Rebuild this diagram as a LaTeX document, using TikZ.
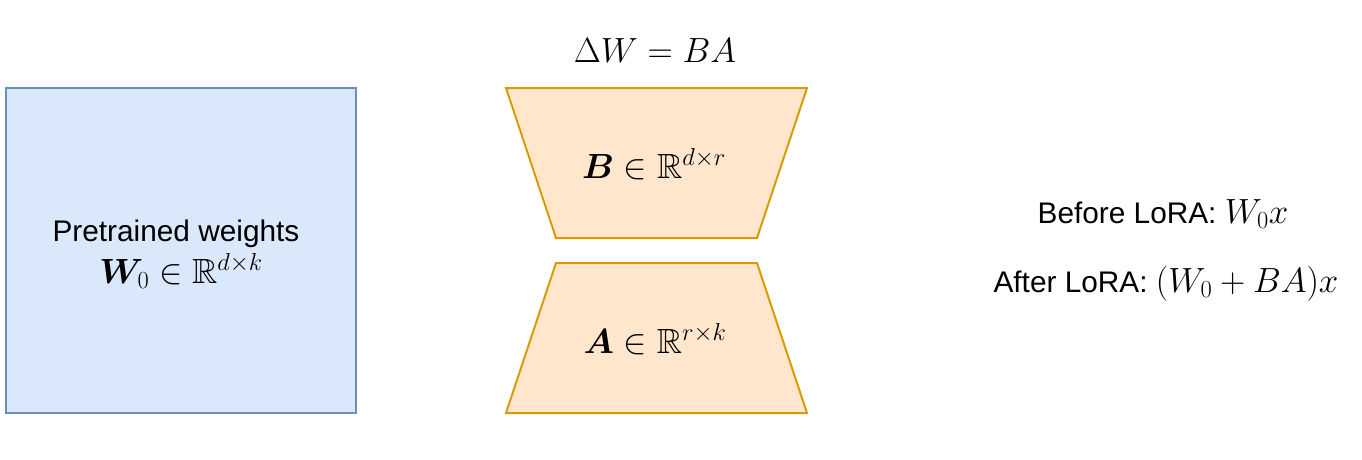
\RequirePackage{fix-cm}
\documentclass[tikz,border=0pt]{standalone}
\usepackage[no-math]{fontspec}
\setmainfont{Liberation Sans}
\usepackage{amsmath,amssymb,bm}
\definecolor{blueFill}{HTML}{DAE8FC}
\definecolor{blueLine}{HTML}{6C8EBF}
\definecolor{orangeFill}{HTML}{FFE6CC}
\definecolor{orangeLine}{HTML}{D79B00}
\newcommand{\mymath}[1]{{\fontsize{35}{42}\selectfont$#1$}}
\begin{document}
\begin{tikzpicture}[x=1pt,y=-1pt,
  weightbox/.style={draw=blueLine,fill=blueFill,line width=2pt},
  lorabox/.style={draw=orangeLine,fill=orangeFill,line width=2pt,line join=miter},
  txt/.style={anchor=base,inner sep=0pt,font=\fontsize{29.8}{36}\selectfont}]
\useasboundingbox (0,0) rectangle (1362,459);
\node[weightbox,minimum width=350pt,minimum height=325pt,inner sep=0pt] (wbox) at (181,250.5) {};
\draw[lorabox] (506,88) -- (807,88) -- (757,238) -- (556,238) -- cycle;
\draw[lorabox] (556,263) -- (757,263) -- (807,413) -- (506,413) -- cycle;
\node[txt] (pt) at (176,241) {Pretrained weights};
\node[txt] (w0) at (181,283) {\mymath{\bm{W}_0\in\mathbb{R}^{d\times k}}};
\node[txt] (dw) at (655,62) {\mymath{\Delta W = BA}};
\node[txt] (bmat) at (654,178) {\mymath{\bm{B}\in\mathbb{R}^{d\times r}}};
\node[txt] (amat) at (655,353) {\mymath{\bm{A}\in\mathbb{R}^{r\times k}}};
\node[txt] (before) at (1163,223) {Before LoRA: \mymath{W_0x}};
\node[txt] (after) at (1166,292) {After LoRA: \mymath{(W_0+BA)x}};
\end{tikzpicture}
\end{document}
